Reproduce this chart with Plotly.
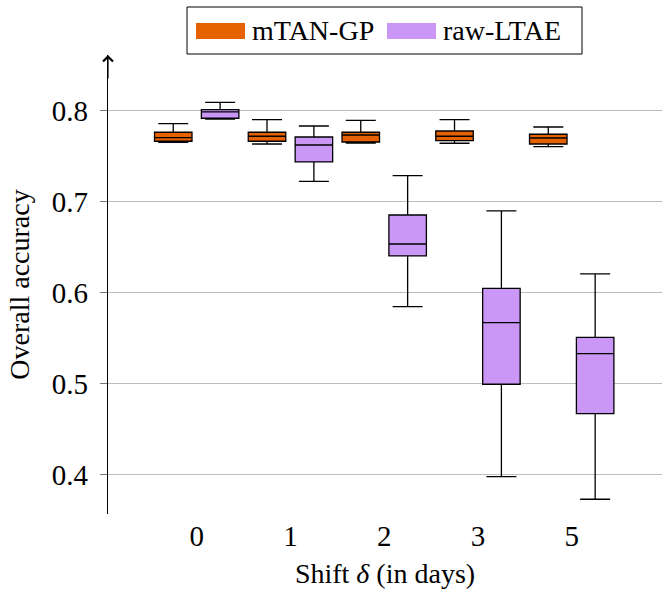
import plotly.graph_objects as go

shifts = ["0", "1", "2", "3", "5"]

# mTAN-GP box statistics
mtan_low = [0.7656, 0.7637, 0.7648, 0.7645, 0.7608]
mtan_q1 = [0.7667, 0.7667, 0.7659, 0.7674, 0.7637]
mtan_med = [0.7707, 0.7722, 0.7736, 0.7722, 0.7703]
mtan_q3 = [0.7766, 0.7766, 0.7766, 0.7780, 0.7744]
mtan_high = [0.7860, 0.7905, 0.7897, 0.7905, 0.7824]

# raw-LTAE box statistics
ltae_low = [0.7910, 0.7227, 0.5850, 0.3981, 0.3733]
ltae_q1 = [0.7920, 0.7440, 0.6407, 0.4997, 0.4674]
ltae_med = [0.7990, 0.7626, 0.6538, 0.5675, 0.5333]
ltae_q3 = [0.8015, 0.7714, 0.6857, 0.6051, 0.5513]
ltae_high = [0.8095, 0.7835, 0.7289, 0.6901, 0.6209]

ytick_vals = [0.4, 0.5, 0.6, 0.7, 0.8]
ytick_text = ["0.4", "0.5", "0.6", "0.7", "0.8"]

names = ["mTAN-GP", "raw-LTAE"]
colors = ["#E66100", "#CA97F7"]

FONT = "Liberation Serif"
FS = 28
TFS = 29

W, H = 662, 589
ML, MR, MT, MB = 108, 0, 55, 75
PW, PH = W - ML - MR, H - MT - MB


def px(x):
    return (x - ML) / PW


def py(y):
    return (H - MB - y) / PH


fig = go.Figure()
stats = [
    (mtan_low, mtan_q1, mtan_med, mtan_q3, mtan_high),
    (ltae_low, ltae_q1, ltae_med, ltae_q3, ltae_high),
]
for name, col, (lo, q1, md, q3, hi) in zip(names, colors, stats):
    fig.add_trace(go.Box(
        name=name, x=shifts, lowerfence=lo, q1=q1, median=md, q3=q3, upperfence=hi,
        fillcolor=col, line=dict(color="#000000", width=1.3),
        whiskerwidth=0.8, boxpoints=False, showlegend=False, hoverinfo="skip",
    ))

fig.update_layout(
    width=W, height=H,
    margin=dict(l=ML, r=MR, t=MT, b=MB),
    paper_bgcolor="white", plot_bgcolor="white",
    boxmode="group", boxgap=0, boxgroupgap=0.2,
    font=dict(family=FONT, size=FS, color="black"),
    xaxis=dict(
        type="category", range=[-0.946, 4.963], showgrid=False, showline=False,
        zeroline=False, ticks="", tickfont=dict(family=FONT, size=TFS), ticklabelstandoff=2,
        title=dict(text="Shift <i>δ</i> (in days)", font=dict(family=FONT, size=FS), standoff=14),
    ),
    yaxis=dict(
        range=[0.3571, 0.8615], tickvals=ytick_vals, ticktext=ytick_text,
        showgrid=True, gridcolor="#bdbdbd", gridwidth=1,
        showline=True, linecolor="black", linewidth=1.2, zeroline=False,
        ticks="outside", ticklen=7, tickcolor="#777777", tickfont=dict(family=FONT, size=TFS),
        ticklabelstandoff=6,
        title=dict(text="Overall accuracy", font=dict(family=FONT, size=FS), standoff=14),
    ),
)

# y axis arrow head
fig.add_annotation(xref="paper", yref="paper", x=0, y=1, ax=0, ay=25,
                   axref="pixel", ayref="pixel", text="", showarrow=True,
                   arrowhead=4, arrowsize=1.6, arrowwidth=1.2, arrowcolor="black")

# manual legend
fig.add_shape(type="rect", xref="paper", yref="paper",
              x0=px(187), x1=px(582), y0=py(54), y1=py(7),
              line=dict(color="black", width=1), fillcolor="white", layer="above")
sw = [(196, 245, 250), (387, 436, 441)]
for (x0, x1, tx), name, col in zip(sw, names, colors):
    fig.add_shape(type="rect", xref="paper", yref="paper",
                  x0=px(x0), x1=px(x1), y0=py(39), y1=py(23),
                  line=dict(width=0), fillcolor=col, layer="above")
    fig.add_annotation(xref="paper", yref="paper", x=px(tx), y=py(31),
                       xanchor="left", yanchor="middle", text=name, showarrow=False,
                       font=dict(family=FONT, size=FS, color="black"))

fig.write_html("out.html")
